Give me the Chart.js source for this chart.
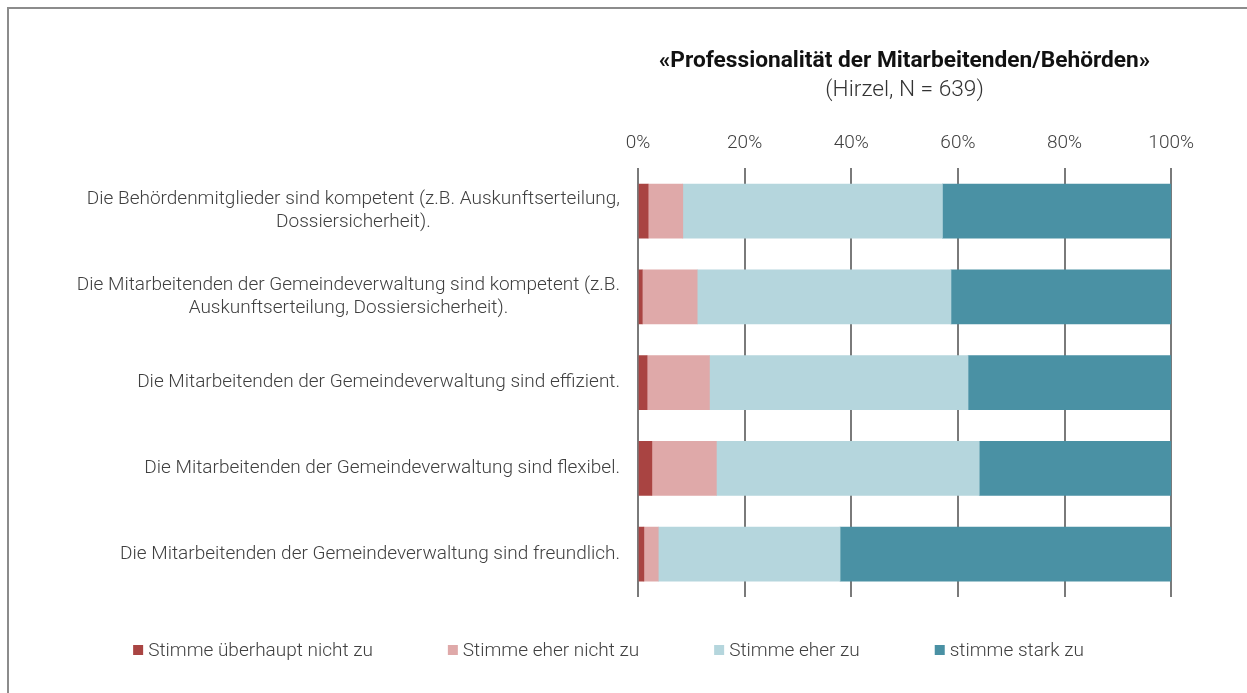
<!DOCTYPE html>
<html>
<head>
<meta charset="utf-8">
<script src="https://cdn.jsdelivr.net/npm/chart.js@4/dist/chart.umd.min.js"></script>
<style>
    html, body { margin: 0; padding: 0; background: #fff; overflow: hidden; }
    .frame { position: absolute; left: 7px; top: 7px; width: 1300px; height: 760px; border: 2px solid #8c8c8c; }
    #chart { position: absolute; left: 9px; top: 9px; }
</style>
</head>
<body>
<div class="frame"></div>
<canvas id="chart" width="1199" height="684"></canvas>
<script>
const categories = [
    ['Die Behördenmitglieder sind kompetent (z.B. Auskunftserteilung,', 'Dossiersicherheit).'],
    ['Die Mitarbeitenden der Gemeindeverwaltung sind kompetent (z.B.', 'Auskunftserteilung, Dossiersicherheit).'],
    ['Die Mitarbeitenden der Gemeindeverwaltung sind effizient.'],
    ['Die Mitarbeitenden der Gemeindeverwaltung sind flexibel.'],
    ['Die Mitarbeitenden der Gemeindeverwaltung sind freundlich.']
];
const seriesNames = ['Stimme überhaupt nicht zu', 'Stimme eher nicht zu', 'Stimme eher zu', 'stimme stark zu'];
const seriesColors = ['#a94442', '#dfa9a9', '#b5d6dd', '#4a91a4'];
const stronglyDisagree = [1.9, 0.8, 1.7, 2.6, 1.1];
const ratherDisagree = [6.5, 10.3, 11.7, 12.1, 2.7];
const ratherAgree = [48.7, 47.6, 48.5, 49.3, 34.1];
const stronglyAgree = [42.9, 41.3, 38.1, 36.0, 62.1];
const tickValues = [0, 20, 40, 60, 80, 100];

const FONT = 'Roboto';
const TEXT = '#404040';

// y labels: block right aligned, lines centered within block
const categoryLabels = {
    id: 'categoryLabels',
    afterDraw(chart) {
        const ctx = chart.ctx;
        const y = chart.scales.y;
        const right = chart.chartArea.left - 18;
        ctx.save();
        ctx.font = `300 19px ${FONT}`;
        ctx.fillStyle = TEXT;
        ctx.textAlign = 'center';
        ctx.textBaseline = 'middle';
        categories.forEach((lines, i) => {
            const cy = y.getPixelForValue(i);
            const w = Math.max(...lines.map(l => ctx.measureText(l).width));
            const lh = 23;
            lines.forEach((l, j) => {
                ctx.fillText(l, right - w / 2, cy + (j - (lines.length - 1) / 2) * lh);
            });
        });
        ctx.restore();
    }
};

// legend drawn by hand so the wide gaps between items fit
const bottomLegend = {
    id: 'bottomLegend',
    afterDraw(chart) {
        const ctx = chart.ctx;
        const box = 10, gap = 75, textGap = 5;
        ctx.save();
        ctx.font = `300 19px ${FONT}`;
        ctx.textBaseline = 'middle';
        ctx.textAlign = 'left';
        const widths = chart.data.datasets.map(d => box + textGap + ctx.measureText(d.label).width);
        const total = widths.reduce((a, b) => a + b, 0) + gap * (widths.length - 1);
        let x = chart.width / 2 - total / 2;
        const cy = chart.chartArea.bottom + 53;
        chart.data.datasets.forEach((d, i) => {
            ctx.fillStyle = d.backgroundColor;
            ctx.fillRect(x, cy - box / 2, box, box);
            ctx.fillStyle = TEXT;
            ctx.fillText(d.label, x + box + textGap, cy + 1);
            x += widths[i] + gap;
        });
        ctx.restore();
    }
};

const seriesData = [stronglyDisagree, ratherDisagree, ratherAgree, stronglyAgree];

new Chart(document.getElementById('chart'), {
    type: 'bar',
    data: {
        labels: categories.map(c => c.join(' ')),
        datasets: seriesNames.map((name, i) => ({
            label: name,
            data: seriesData[i],
            backgroundColor: seriesColors[i],
            borderWidth: 0,
            barThickness: 54
        }))
    },
    options: {
        indexAxis: 'y',
        responsive: false,
        animation: false,
        layout: { padding: { left: 621, right: 25, top: 0, bottom: 96 } },
        plugins: {
            legend: { display: false },
            tooltip: { enabled: false },
            title: {
                display: true,
                fullSize: false,
                text: '«Professionalität der Mitarbeitenden/Behörden»',
                color: '#111',
                font: { family: FONT, size: 22.7, weight: 'bold' },
                padding: { top: 39, bottom: 1 }
            },
            subtitle: {
                display: true,
                fullSize: false,
                text: '(Hirzel, N = 639)',
                color: '#333',
                font: { family: FONT, size: 22.7, weight: '300' },
                padding: { top: 0, bottom: 14 }
            }
        },
        scales: {
            x: {
                position: 'top',
                stacked: true,
                min: 0,
                max: 100,
                afterBuildTicks: axis => { axis.ticks = tickValues.map(v => ({ value: v })); },
                ticks: {
                    callback: v => v + '%',
                    color: TEXT,
                    font: { family: FONT, size: 19, weight: '300' },
                    padding: 14
                },
                grid: { color: '#7a7a7a', lineWidth: 2, drawTicks: false },
                border: { display: false }
            },
            y: {
                stacked: true,
                ticks: { display: false },
                grid: { display: false },
                border: { display: false }
            }
        }
    },
    plugins: [categoryLabels, bottomLegend]
});
</script>
</body>
</html>
